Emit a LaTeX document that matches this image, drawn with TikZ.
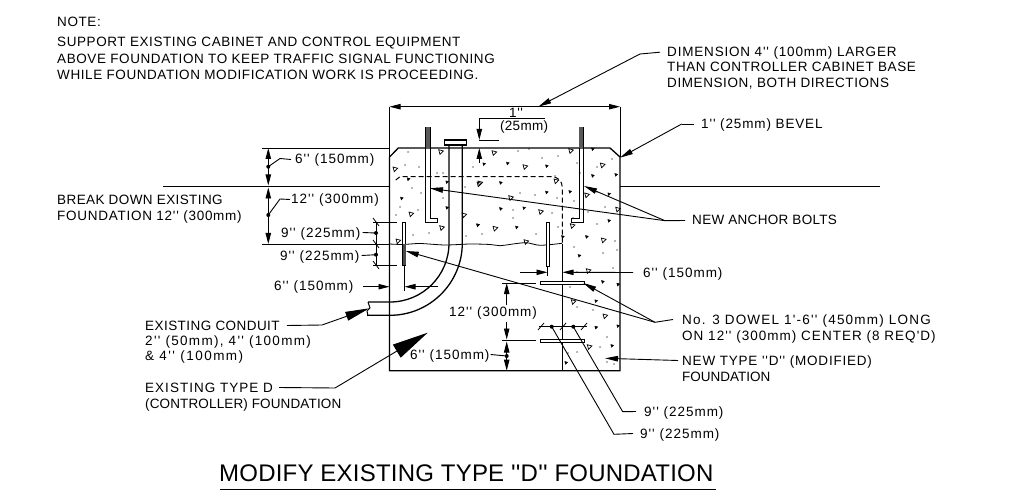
\documentclass[tikz,border=0pt]{standalone}
\usepackage{fontspec}
\newfontfamily\cadfont[LetterSpace=4.3]{Liberation Sans}
\newfontfamily\cadtitle[LetterSpace=0.9]{Liberation Sans}
\newcommand{\ls}[1]{\addfontfeatures{LetterSpace=#1}}
\usetikzlibrary{arrows.meta,plotmarks}
\pgfdeclarelayer{edgelayer}
\pgfdeclarelayer{nodelayer}
\pgfsetlayers{edgelayer,nodelayer,main}
\tikzstyle{none}=[inner sep=0pt]
\tikzstyle{txt}=[inner sep=0pt,anchor=base west,text height=9pt,text depth=0pt,font=\cadfont\fontsize{13.5}{16}\selectfont]
\tikzstyle{titletxt}=[inner sep=0pt,anchor=base west,font=\cadtitle\fontsize{24}{28}\selectfont]
\tikzstyle{simple}=[-,line width=1.300]
\tikzstyle{thinline}=[-,line width=0.800]
\tikzstyle{leader}=[-,line width=0.900]
\tikzstyle{dimarrow}=[-{Triangle[length=11pt,width=5.4pt]},line width=0.900]
\tikzstyle{inarrow}=[-{Triangle[length=13pt,width=5.5pt]},line width=0.900]
\tikzstyle{bigarrow}=[-{Triangle[length=24pt,width=9pt]},line width=0.900]
\tikzstyle{hugearrow}=[-{Triangle[length=36pt,width=15pt]},line width=0.900]
\tikzstyle{bullet}=[circle,fill=black,inner sep=0pt,minimum size=4pt]
\tikzstyle{dowel}=[line width=0.900,fill=white]

\begin{document}
\begin{tikzpicture}[x=1pt,y=-1pt]
	\useasboundingbox (0,0) rectangle (1012,497);
	\begin{pgfonlayer}{nodelayer}
		\node [style=txt] (note) at (57, 26.7) {NOTE:};
		\node [style=txt] (note1) at (57, 46.7) {SUPPORT EXISTING CABINET AND CONTROL EQUIPMENT};
		\node [style=txt] (note2) at (57, 63.5) {ABOVE FOUNDATION TO KEEP TRAFFIC SIGNAL FUNCTIONING};
		\node [style=txt] (note3) at (57, 80) {WHILE FOUNDATION MODIFICATION WORK IS PROCEEDING.};
		\node [style=txt] (dim1) at (667, 56.7) {\ls{6}DIMENSION 4'' (100mm) LARGER};
		\node [style=txt] (dim2) at (667, 72) {THAN CONTROLLER CABINET BASE};
		\node [style=txt] (dim3) at (667, 88) {DIMENSION, BOTH DIRECTIONS};
		\node [style=txt] (bevel) at (701, 128.5) {\ls{6.4}1'' (25mm) BEVEL};
		\node [style=txt] (one) at (509, 118) {1''};
		\node [style=txt] (cover) at (500, 130.6) {\ls{2}(25mm)};
		\node [style=txt] (six) at (295, 164) {\ls{7.3}6'' (150mm)};
		\node [style=txt] (twelve) at (291, 204) {\ls{7.3}12'' (300mm)};
		\node [style=txt] (break1) at (57, 204.5) {\ls{3}BREAK DOWN EXISTING};
		\node [style=txt] (break2) at (57, 220.5) {\ls{5.4}FOUNDATION 12'' (300mm)};
		\node [style=txt] (nineA) at (281, 237) {\ls{7.3}9'' (225mm)};
		\node [style=txt] (nineB) at (280, 260) {\ls{7.3}9'' (225mm)};
		\node [style=txt] (sixL) at (274, 290) {\ls{7.3}6'' (150mm)};
		\node [style=txt] (sixR) at (643, 277) {\ls{7.3}6'' (150mm)};
		\node [style=txt] (twelveB) at (449, 316) {\ls{7.3}12'' (300mm)};
		\node [style=txt] (sixB) at (410, 359) {\ls{7.3}6'' (150mm)};
		\node [style=txt] (bolts) at (692, 225) {\ls{2.3}NEW ANCHOR BOLTS};
		\node [style=txt] (dowel1) at (682, 324) {\ls{9.1}No. 3 DOWEL 1'-6'' (450mm) LONG};
		\node [style=txt] (dowel2) at (682, 340) {\ls{7.6}ON 12'' (300mm) CENTER (8 REQ'D)};
		\node [style=txt] (type1) at (682, 365) {\ls{5.9}NEW TYPE ''D'' (MODIFIED)};
		\node [style=txt] (type2) at (682, 381.5) {\ls{0}FOUNDATION};
		\node [style=txt] (nineC) at (644, 416) {\ls{7.3}9'' (225mm)};
		\node [style=txt] (nineD) at (640, 438) {\ls{7.3}9'' (225mm)};
		\node [style=txt] (cond1) at (145, 330) {\ls{3.3}EXISTING CONDUIT};
		\node [style=txt] (cond2) at (145, 345) {\ls{9.7}2'' (50mm), 4'' (100mm)};
		\node [style=txt] (cond3) at (145, 360.7) {\ls{11}\& 4'' (100mm)};
		\node [style=txt] (old1) at (145, 392) {\ls{7.5}EXISTING TYPE D};
		\node [style=txt] (old2) at (145, 408) {\ls{1}(CONTROLLER) FOUNDATION};
		\node [style=titletxt] (title) at (219, 481.7) {MODIFY EXISTING TYPE ''D'' FOUNDATION};

		% dimension points
		\node [style=none] (TL) at (389.5, 106.7) {};
		\node [style=none] (TR) at (620, 106.7) {};
		\node [style=none] (TM) at (538.3, 106.7) {};
		\node [style=none] (DK) at (640, 54) {};
		\node [style=none] (BV) at (620, 157.7) {};
		\node [style=none] (BK) at (681.7, 124) {};
		\node [style=none] (CA) at (479.3, 118.3) {};
		\node [style=none] (CB) at (479.3, 140) {};
		\node [style=none] (CC) at (479.3, 148) {};
		\node [style=none] (CD) at (479.3, 163) {};
		\node [style=none] (CE) at (545, 118.3) {};
		\node [style=bullet] (D6) at (268.3, 166.7) {};
		\node [style=bullet] (D12) at (268.3, 215) {};
		\node [style=none] (K6) at (280, 158.5) {};
		\node [style=none] (K12) at (280, 199) {};
		\node [style=none] (V0) at (268.3, 148) {};
		\node [style=none] (V1) at (268.3, 185.5) {};
		\node [style=none] (V2) at (268.3, 187.5) {};
		\node [style=none] (V3) at (268.3, 244) {};
		\node [style=bullet] (D9A) at (376, 233) {};
		\node [style=bullet] (D9B) at (376, 254.7) {};
		\node [style=none] (W0) at (376, 222.3) {};
		\node [style=none] (W1) at (376, 265) {};
		\node [style=none] (EA) at (373, 222.3) {};
		\node [style=none] (EB) at (397, 222.3) {};
		\node [style=none] (EC) at (373, 265) {};
		\node [style=none] (ED) at (397, 265) {};
		\node [style=none] (LA) at (363, 286.7) {};
		\node [style=none] (LB) at (389.5, 286.7) {};
		\node [style=none] (LC) at (438, 286.7) {};
		\node [style=none] (LD) at (404.5, 286.7) {};
		\node [style=none] (LE) at (404.2, 265) {};
		\node [style=none] (LF) at (404.2, 291) {};
		\node [style=none] (RA) at (520, 272.3) {};
		\node [style=none] (RB) at (547.5, 272.3) {};
		\node [style=none] (RC) at (562.5, 272.3) {};
		\node [style=none] (RE) at (547.5, 266) {};
		\node [style=none] (RF) at (547.5, 276) {};
		\node [style=none] (H1) at (502, 283) {};
		\node [style=none] (H2) at (535.7, 283) {};
		\node [style=none] (H3) at (502, 340.5) {};
		\node [style=none] (H4) at (535.7, 340.5) {};
		\node [style=none] (U1) at (506.7, 283) {};
		\node [style=none] (U2) at (506.7, 305) {};
		\node [style=none] (U3) at (506.7, 322) {};
		\node [style=none] (U4) at (506.7, 339.5) {};
		\node [style=none] (U5) at (506.7, 341.5) {};
		\node [style=none] (U6) at (506.7, 370.7) {};
		\node [style=bullet] (D6B) at (506.7, 356) {};
		\node [style=none] (S1) at (539, 326.7) {};
		\node [style=none] (S2) at (586.7, 326.7) {};
		\node [style=bullet] (D9C) at (551.7, 326.7) {};
		\node [style=bullet] (D9D) at (573.3, 326.7) {};
		\node [style=none] (K9C) at (622.7, 411.7) {};
		\node [style=none] (K9D) at (614, 434.3) {};
		\node [style=none] (KB) at (665, 220.7) {};
		\node [style=none] (BA) at (584, 186) {};
		\node [style=none] (BB) at (430, 188.3) {};
		\node [style=none] (KW) at (655, 322.3) {};
		\node [style=none] (WA) at (583.3, 283) {};
		\node [style=none] (WB) at (405.7, 251) {};
		\node [style=none] (NT) at (605, 358.3) {};
		\node [style=none] (KC) at (322, 325) {};
		\node [style=none] (BRK) at (369.3, 308.3) {};
		\node [style=none] (KO) at (335, 388) {};
		\node [style=none] (OLD) at (427.7, 332.7) {};
		\node [style=none] (GL) at (163, 186.7) {};
		\node [style=none] (GM) at (389.5, 186.7) {};
		\node [style=none] (GN) at (620, 186.7) {};
		\node [style=none] (GR) at (880, 186.7) {};
		\node [style=none] (XT) at (262, 148) {};
		\node [style=none] (XB) at (262, 244) {};
		\node [style=none] (XC) at (389.5, 148) {};
		\node [style=none] (XD) at (389.5, 244) {};
		\node [style=none] (TA) at (220, 489.3) {};
		\node [style=none] (TB) at (716, 489.3) {};
	\end{pgfonlayer}
	\begin{pgfonlayer}{edgelayer}
		% concrete
		\draw [line width=0.7] plot [only marks, mark=triangle, mark size=2.8pt, mark options={rotate=-75}] coordinates {(395,169) (440.7,151.7) (411,214) (441.7,227.7) (464,215) (480,183) (494,152.7) (570.7,150.7) (525,166.7) (602.3,165) (479,184) (556,181) (510.7,197.7) (586.7,195) (617.7,209.3) (540.7,211.7) (495,228.3) (572.3,225.7) (603.3,240) (526,241.7) (588.3,270.7) (573.3,301.7) (605,316) (589.3,346.7) (398,241)};
		\fill plot [only marks, mark=triangle*, mark size=1.7pt, mark options={rotate=-75}] coordinates {(408.3,179) (401.7,198.3) (447,182) (447,207.7) (477.7,225) (592.7,149) (484,164) (507.7,163.3) (546.7,166) (500.7,182.7) (592.7,175.7) (616,174.7) (546.7,192.3) (570,191.7) (609,194) (500.7,208.7) (524,208) (609,220.7) (478,225) (516.7,227.3) (562.7,236.7) (586.7,236.7) (579.3,255.7) (602.7,281.7) (618,284.3) (596,301) (596,327.3) (618,326) (612,345.7) (566,362.7)};
		\fill [gray] plot [only marks, mark=*, mark size=0.5pt] coordinates {(408,152) (405,165) (419,167) (437,173) (443,173) (412,188) (421,193) (443,198) (437,188) (465,187) (396,215) (400,207) (413,235) (429,233) (466,236) (418,210) (518,151) (529,149) (473,167) (542,158) (558,156) (555,176) (577,163) (597,167) (612,159) (580,173) (520,193) (535,195) (557,198) (574,201) (597,192) (513,210) (552,213) (573,218) (588,212) (605,207) (513,218) (482,234) (536,234) (558,227) (597,224) (615,241) (574,247) (603,253) (617,250) (577,272) (613,268) (570,287) (593,310) (577,307) (607,337) (577,352) (600,347) (607,362) (614,364) (568,353)};
		% foundation
		\draw [style=simple] (620,157) to (610,148) to (398.3,148) to (389.5,157) to (389.5,370.7) to (620,370.7) to cycle;
		\draw [style=simple] (GL.center) to (GM.center);
		\draw [style=simple] (GN.center) to (GR.center);
		\draw [style=thinline] (TL.center) to (389.5,157);
		\draw [style=thinline] (TR.center) to (620,157);
		\draw [style=thinline] (XT.center) to (XC.center);
		\draw [style=thinline] (XB.center) to (XD.center);
		\draw [style=thinline] plot [smooth] coordinates {(389.5,244) (403,244.5) (420,243.5) (445,245) (470,244) (490,244.5) (500,245.7) (525,242.7) (540,245.3) (562,243.3)};
		\draw [line width=1.0, dash pattern=on 5pt off 3pt] (395.7,180) to (400,176.7) to (552,176.7) .. controls (558,177) and (562,181) .. (562.3,187) to (562.3,244);
		\draw [style=simple] (562.3,244) to (562.3,370.7);
		% conduit
		\draw [style=simple] (449,145) to (449,243) arc [start angle=0, end angle=90, radius=59] to (368,302);
		\draw [style=simple] (462.3,145) to (462.3,243) arc [start angle=0, end angle=90, radius=72.3] to (367,315.3);
		\draw [line width=1.0] (368,302) to (370,308) to (367,311) to (368,316);
		\draw [style=simple, fill=white] (444.3,140) rectangle (466.7,145);
		% anchor bolts
		\draw [style=thinline] (425.7,127) to (425.7,222.3) to (437.7,222.3) to (437.7,218.3) to (430,218.3) to (430,127) to cycle;
		\draw [style=thinline] (583.3,127) to (583.3,222.3) to (571.7,222.3) to (571.7,218.3) to (579.3,218.3) to (579.3,127) to cycle;
		\fill [black!65] (425.7,127) rectangle (430,148);
		\fill [black!65] (579.3,127) rectangle (583.3,148);
		% dowels
		\draw [style=dowel] (402.7,222) rectangle (405.7,265);
		\fill [black!70] (402.7,244) rectangle (405.7,265);
		\draw [style=dowel] (546,222) rectangle (549,266);
		\draw [style=dowel] (540.7,281.7) rectangle (584,284.3);
		\draw [style=dowel] (540.7,339.3) rectangle (584,342);
		% dimensions
		\draw [style=dimarrow] (TM.center) to (TR.center);
		\draw [style=dimarrow] (TM.center) to (TL.center);
		\draw [style=inarrow] (DK.center) to (TM.center);
		\draw [style=leader] ([xshift=-7pt]dim1.west) to (DK.center);
		\draw [style=inarrow] (BK.center) to (BV.center);
		\draw [style=leader] ([xshift=-7pt]bevel.west) to (BK.center);
		\draw [style=dimarrow] (CE.center) to (CA.center) to (CB.center);
		\draw [style=dimarrow] (CD.center) to (CC.center);
		\draw [style=thinline] (CB.center) to (499,140);
		\draw [style=dimarrow] (D6.center) to (V0.center);
		\draw [style=dimarrow] (D6.center) to (V1.center);
		\draw [style=dimarrow] (D12.center) to (V2.center);
		\draw [style=dimarrow] (D12.center) to (V3.center);
		\draw [style=leader] (D6.center) to (K6.center) to ([xshift=-4pt]six.west);
		\draw [style=leader] (D12.center) to (K12.center) to ([xshift=-1pt]twelve.west);
		\draw [style=thinline] (W0.center) to (W1.center);
		\draw [style=thinline] (EA.center) to (EB.center);
		\draw [style=thinline] (EC.center) to (ED.center);
		\draw [style=thinline] (373,218) to (379,226);
		\draw [style=thinline] (373,240) to (379,248);
		\draw [style=thinline] (373,261) to (379,269);
		\draw [style=leader] (D9A.center) to ([xshift=2pt]nineA.east);
		\draw [style=leader] (D9B.center) to ([xshift=2pt]nineB.east);
		\draw [style=dimarrow] (LA.center) to (LB.center);
		\draw [style=dimarrow] (LC.center) to (LD.center);
		\draw [style=thinline] (LE.center) to (LF.center);
		\draw [style=dimarrow] (RA.center) to (RB.center);
		\draw [style=dimarrow] ([xshift=-10pt]sixR.west) to (RC.center);
		\draw [style=thinline] (RE.center) to (RF.center);
		\draw [style=thinline] (H1.center) to (H2.center);
		\draw [style=thinline] (H3.center) to (H4.center);
		\draw [style=dimarrow] (U2.center) to (U1.center);
		\draw [style=dimarrow] (U3.center) to (U4.center);
		\draw [style=dimarrow] (D6B.center) to (U5.center);
		\draw [style=dimarrow] (D6B.center) to (U6.center);
		\draw [style=leader] ([xshift=1pt]sixB.east) to (D6B.center);
		\draw [style=thinline] (S1.center) to (S2.center);
		\draw [style=thinline] (538,330) to (544,323);
		\draw [style=thinline] (560,330) to (566,323);
		\draw [style=thinline] (581,330) to (587,323);
		\draw [style=leader] (D9D.center) to (K9C.center) to ([xshift=-8pt]nineC.west);
		\draw [style=leader] (D9C.center) to (K9D.center) to ([xshift=-7pt]nineD.west);
		% notes
		\draw [style=leader] ([xshift=-7pt]bolts.west) to (KB.center);
		\draw [style=inarrow] (KB.center) to (BA.center);
		\draw [style=inarrow] (KB.center) to (BB.center);
		\draw [style=leader] ([xshift=-9pt]dowel1.west) to (KW.center);
		\draw [style=inarrow] (KW.center) to (WA.center);
		\draw [style=inarrow] (KW.center) to (WB.center);
		\draw [style=inarrow] ([xshift=-4pt]type1.west) to (NT.center);
		\draw [style=bigarrow] ([xshift=7pt]cond1.east) to (KC.center) to (BRK.center);
		\draw [style=hugearrow] ([xshift=6pt]old1.east) to (KO.center) to (OLD.center);
		\draw [style=leader] (TA.center) to (TB.center);
	\end{pgfonlayer}
\end{tikzpicture}
\end{document}
